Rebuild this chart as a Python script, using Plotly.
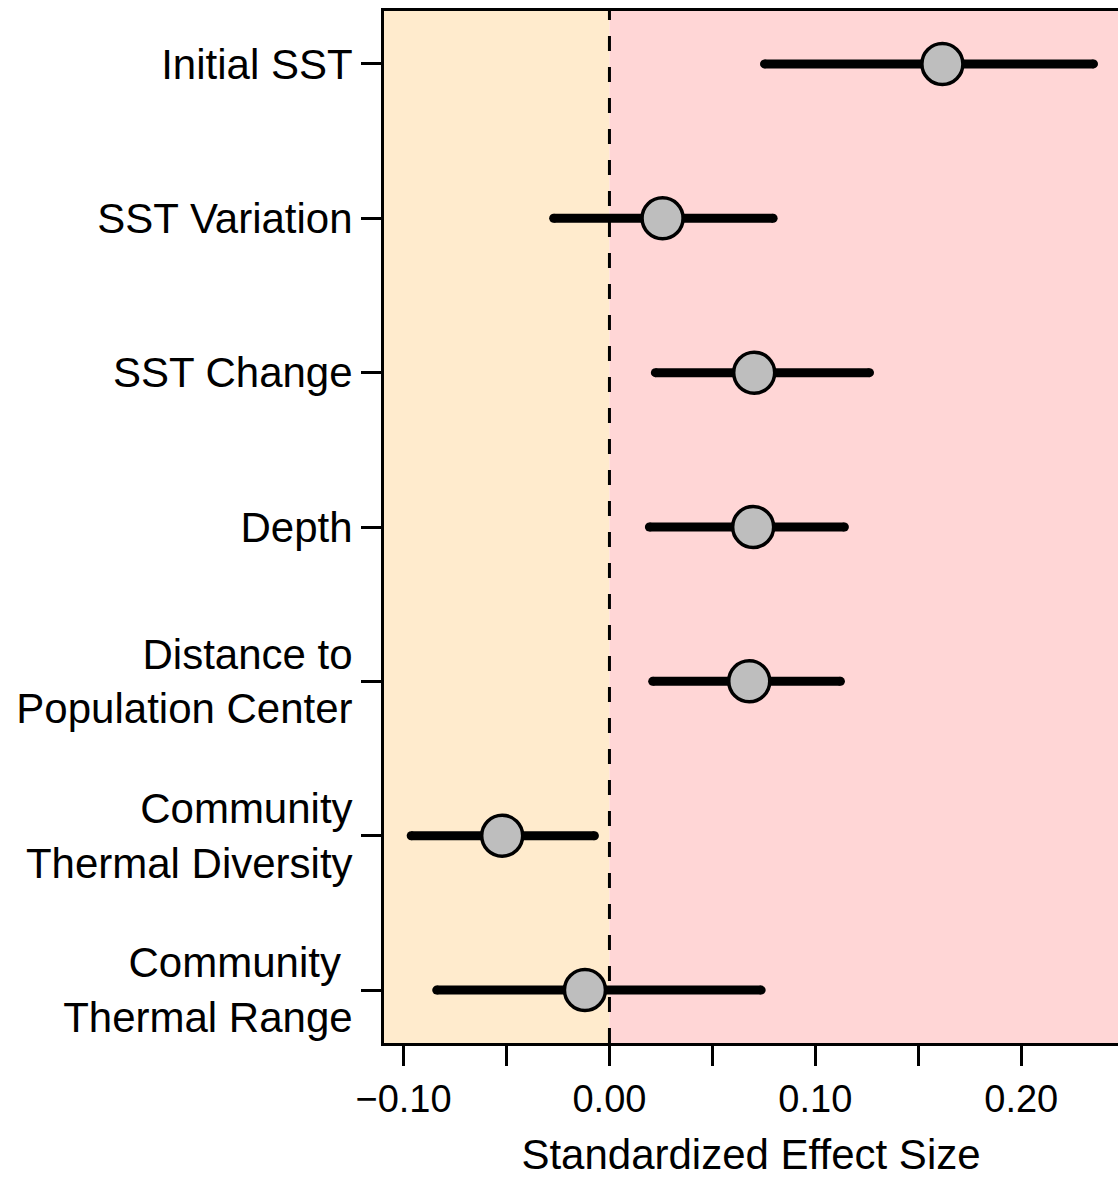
import plotly.graph_objects as go

# ---- data ----
labels = [
    "Initial SST",
    "SST Variation",
    "SST Change",
    "Depth",
    "Distance to<br>Population Center",
    "Community<br>Thermal Diversity",
    "Community\u00a0<br>Thermal Range",
]
estimate = [0.1617, 0.0258, 0.0703, 0.0698, 0.0679, -0.0521, -0.0119]
ci_low = [0.0753, -0.0271, 0.0223, 0.0194, 0.0210, -0.0963, -0.0839]
ci_high = [0.2351, 0.0795, 0.1263, 0.1141, 0.1122, -0.0073, 0.0737]

x_tickvals = [-0.10, -0.05, 0.00, 0.05, 0.10, 0.15, 0.20]
x_ticktext = ["\u22120.10", "", "0.00", "", "0.10", "", "0.20"]

X_MIN, X_MAX = -0.1095, 0.2470
FONT = "Liberation Sans, Arial, sans-serif"

ypos = list(range(len(labels)))

fig = go.Figure()

# CI lines (with round caps from small end markers)
cx, cy = [], []
for i, (lo, hi) in enumerate(zip(ci_low, ci_high)):
    cx += [lo, hi, None]
    cy += [ypos[i], ypos[i], None]
fig.add_trace(go.Scatter(
    x=cx, y=cy, mode="lines+markers",
    line=dict(color="black", width=9),
    marker=dict(color="black", size=9, line=dict(width=0)),
    hoverinfo="skip", showlegend=False,
))

# point estimates
fig.add_trace(go.Scatter(
    x=estimate, y=ypos, mode="markers",
    marker=dict(size=41, color="#BEBEBE", line=dict(color="black", width=3.5)),
    showlegend=False,
))

# background regions and zero line
fig.add_shape(type="rect", xref="x", yref="paper", x0=X_MIN, x1=0, y0=0, y1=1,
              fillcolor="#FFEBCD", line=dict(width=0), layer="below")
fig.add_shape(type="rect", xref="x", yref="paper", x0=0, x1=X_MAX, y0=0, y1=1,
              fillcolor="#FFD6D6", line=dict(width=0), layer="below")
fig.add_shape(type="line", xref="x", yref="paper", x0=0, x1=0, y0=0, y1=1,
              line=dict(color="black", width=3, dash="15px,16px"), layer="below")

fig.update_layout(
    width=1118, height=1178,
    margin=dict(l=384, r=0, t=11, b=135),
    paper_bgcolor="white", plot_bgcolor="white",
    font=dict(family=FONT, color="black", size=42),
    showlegend=False,
)

fig.update_xaxes(
    range=[X_MIN, X_MAX], automargin=False,
    tickvals=x_tickvals, ticktext=x_ticktext,
    ticks="outside", ticklen=20, tickwidth=2.5, tickcolor="black",
    tickfont=dict(size=38, family=FONT),
    showline=True, linecolor="black", linewidth=3, mirror=True,
    showgrid=False, zeroline=False,
    title=dict(text="Standardized Effect Size", font=dict(size=42, family=FONT), standoff=33),
)
fig.update_yaxes(
    range=[len(labels) - 1 + 0.343, -0.343], automargin=False,
    tickvals=ypos, ticktext=labels,
    ticks="outside", ticklen=20, tickwidth=2.5, tickcolor="black",
    tickfont=dict(size=42, family=FONT),
    showline=True, linecolor="black", linewidth=3, mirror=False,
    showgrid=False, zeroline=False,
)

fig.write_html(
    "out.html",
    config={"displayModeBar": False},
    post_script="document.body.style.margin='0';document.body.style.overflow='hidden';",
)
